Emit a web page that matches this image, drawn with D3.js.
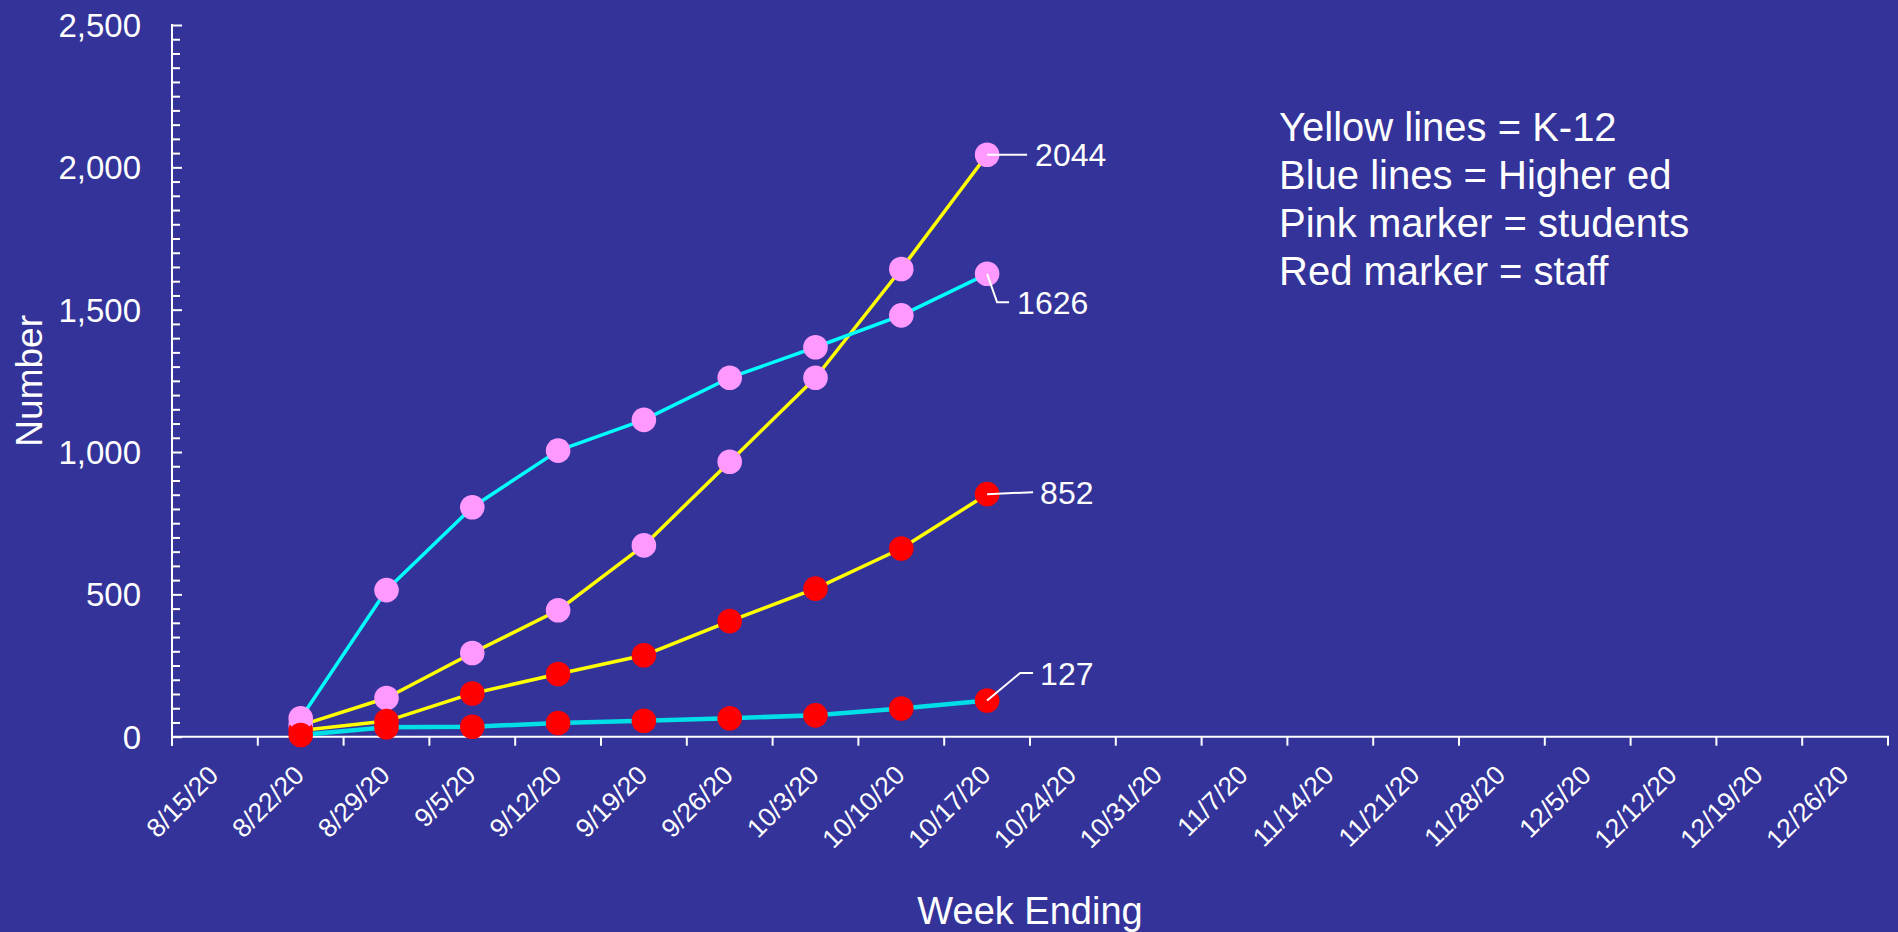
<!DOCTYPE html>
<html>
<head>
<meta charset="utf-8">
<script src="https://cdn.jsdelivr.net/npm/d3@7"></script>
<style>
  html, body { margin: 0; padding: 0; background: #333399; }
  svg { display: block; font-family: "Liberation Sans", Arial, sans-serif; }
</style>
</head>
<body>
<div id="chart"></div>
<script>
// Data
const weeks = ['8/15/20', '8/22/20', '8/29/20', '9/5/20', '9/12/20', '9/19/20', '9/26/20',
  '10/3/20', '10/10/20', '10/17/20', '10/24/20', '10/31/20', '11/7/20', '11/14/20',
  '11/21/20', '11/28/20', '12/5/20', '12/12/20', '12/19/20', '12/26/20']
const dataWeeks = ['8/22/20', '8/29/20', '9/5/20', '9/12/20', '9/19/20', '9/26/20',
  '10/3/20', '10/10/20', '10/17/20']

const k12Students = [40, 136, 294, 444, 672, 966, 1261, 1643, 2044]
const k12Staff = [22, 55, 152, 220, 286, 406, 520, 661, 852]
const higherEdStudents = [65, 515, 806, 1005, 1113, 1261, 1368, 1480, 1626]
const higherEdStaff = [6, 33, 35, 48, 56, 65, 75, 99, 127]

const yTicks = [0, 500, 1000, 1500, 2000, 2500]
const legendLines = ['Yellow lines = K-12', 'Blue lines = Higher ed',
  'Pink marker = students', 'Red marker = staff']

//Dimensions
const dims = {
  width: 1898,
  height: 932,
  left: 172,
  right: 1888,
  top: 25,
  bottom: 736.7
}

// drawn in this order (later series on top)
const series = [
  {values: k12Students, line: '#ffff00', width: 3.5, marker: '#ff99ff',
    leader: [[0, 0], [40, 0]], label: [48, 0]},
  {values: k12Staff, line: '#ffff00', width: 3.5, marker: '#ff0000',
    leader: [[0, 0], [46, -2]], label: [53, -1.5]},
  {values: higherEdStudents, line: '#00ffff', width: 3.5, marker: '#ff99ff',
    leader: [[0, 0], [10, 28.5], [22, 28.5]], label: [30, 28.5]},
  {values: higherEdStaff, line: '#00dfe8', width: 4.5, marker: '#ff0000',
    leader: [[0, 0], [33, -27.5], [46, -27.5]], label: [53, -27.5]}
]

// Scales
const xScale = d3.scaleBand()
  .domain(weeks)
  .range([dims.left, dims.right])
  .padding(0)

const yScale = d3.scaleLinear()
  .domain([0, 2500])
  .range([dims.bottom, dims.top])

const xPos = d => xScale(d) + xScale.bandwidth() / 2

//Draw Image
const svg = d3.select('#chart')
  .append('svg')
  .attr('width', dims.width)
  .attr('height', dims.height)

svg.append('rect')
  .attr('width', dims.width)
  .attr('height', dims.height)
  .attr('fill', '#333399')

// Axes
const yAxisGroup = svg.append('g')
  .attr('transform', `translate(${dims.left}, 0)`)
  .call(d3.axisRight(yScale).tickValues(d3.range(0, 2501, 50)).tickSize(8).tickFormat(''))
yAxisGroup.select('.domain').remove()
yAxisGroup.selectAll('.tick line')
  .attr('stroke', 'white')
  .attr('stroke-width', 2)
  .attr('x2', d => d % 500 === 0 ? 10 : 8)

svg.append('line')
  .attr('x1', dims.left).attr('x2', dims.left)
  .attr('y1', dims.top - 1).attr('y2', dims.bottom + 9)
  .attr('stroke', 'white')
  .attr('stroke-width', 2)

svg.append('g')
  .selectAll('text')
  .data(yTicks)
  .join('text')
  .attr('x', dims.left - 31)
  .attr('y', d => yScale(d))
  .attr('dy', '0.36em')
  .attr('text-anchor', 'end')
  .attr('fill', 'white')
  .attr('font-size', 33)
  .text(d => d3.format(',')(d))

// x axis: ticks between categories
svg.append('line')
  .attr('x1', dims.left - 1).attr('x2', dims.right + 1)
  .attr('y1', dims.bottom).attr('y2', dims.bottom)
  .attr('stroke', 'white')
  .attr('stroke-width', 2)

svg.append('g')
  .selectAll('line')
  .data(weeks.map(w => xScale(w)).concat([dims.right]))
  .join('line')
  .attr('x1', d => d).attr('x2', d => d)
  .attr('y1', dims.bottom).attr('y2', dims.bottom + 9)
  .attr('stroke', 'white')
  .attr('stroke-width', 2)

svg.append('g')
  .selectAll('text')
  .data(weeks)
  .join('text')
  .attr('transform', d => `translate(${xPos(d) + 5}, ${dims.bottom + 40}) rotate(-45)`)
  .attr('text-anchor', 'end')
  .attr('fill', 'white')
  .attr('font-size', 26.5)
  .text(d => d)

// Axis titles
svg.append('text')
  .text('Number')
  .attr('transform', `translate(41.5, ${(dims.top + dims.bottom) / 2}) rotate(-90)`)
  .attr('text-anchor', 'middle')
  .attr('fill', 'white')
  .attr('font-size', 37)

svg.append('text')
  .text('Week Ending')
  .attr('x', (dims.left + dims.right) / 2)
  .attr('y', 924)
  .attr('text-anchor', 'middle')
  .attr('fill', 'white')
  .attr('font-size', 38)

// Lines and markers
const line = d3.line()
  .x((d, i) => xPos(dataWeeks[i]))
  .y(d => yScale(d))

series.forEach(s => {
  const g = svg.append('g')
  g.append('path')
    .datum(s.values)
    .attr('d', line)
    .attr('fill', 'none')
    .attr('stroke', s.line)
    .attr('stroke-width', s.width)
    .attr('stroke-linejoin', 'round')
  g.selectAll('circle')
    .data(s.values)
    .join('circle')
    .attr('cx', (d, i) => xPos(dataWeeks[i]))
    .attr('cy', d => yScale(d))
    .attr('r', 12.3)
    .attr('fill', s.marker)
})

// Callout labels on last points
series.forEach(s => {
  const last = s.values[s.values.length - 1]
  const mx = xPos(dataWeeks[s.values.length - 1])
  const my = yScale(last)
  svg.append('path')
    .attr('d', d3.line()(s.leader.map(p => [mx + p[0], my + p[1]])))
    .attr('fill', 'none')
    .attr('stroke', 'white')
    .attr('stroke-width', 2)
  svg.append('text')
    .attr('x', mx + s.label[0])
    .attr('y', my + s.label[1])
    .attr('dy', '0.36em')
    .attr('fill', 'white')
    .attr('font-size', 32)
    .text(last)
})

// Legend text
svg.append('g')
  .selectAll('text')
  .data(legendLines)
  .join('text')
  .attr('x', 1279)
  .attr('y', (d, i) => 140.7 + i * 48)
  .attr('fill', 'white')
  .attr('font-size', 40)
  .text(d => d)
</script>
</body>
</html>
